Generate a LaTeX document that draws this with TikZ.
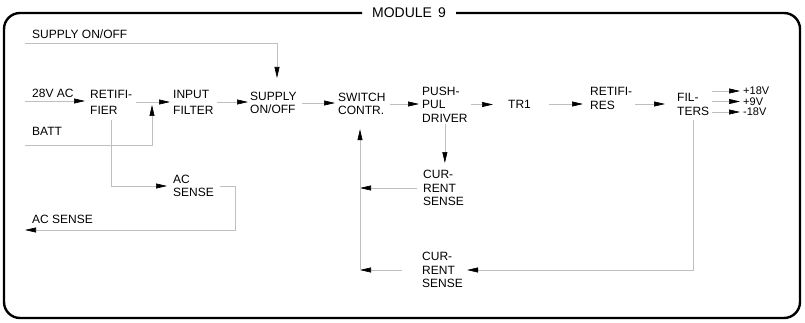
\documentclass[tikz,border=0pt]{standalone}
\usepackage{fontspec}
\setmainfont{Liberation Sans}
\usetikzlibrary{arrows.meta}
\begin{document}
\begin{tikzpicture}[x=1pt,y=-1pt,
  lbl/.style={inner sep=0pt, align=left, anchor=west, font=\fontsize{12}{14}\selectfont},
  lbl16/.style={lbl, font=\fontsize{12}{16}\selectfont},
  lbl13/.style={lbl, font=\fontsize{12}{13.5}\selectfont},
  outlbl/.style={lbl, font=\fontsize{11}{12}\selectfont},
  link/.style={draw=gray!50, line width=0.6pt},
  conn/.style={link, -{Triangle[length=11pt,width=5pt,color=black]}},
  frame/.style={draw=black, line width=2.4pt, rounded corners=16pt}]
\useasboundingbox (0,0) rectangle (805,323);
% frame
\draw[frame] (362,13) -- (4,13) -- (4,318) -- (800,318) -- (800,13) -- (456,13);
\node[inner sep=0pt, font=\fontsize{14}{16}\selectfont] (mod) at (409,13) {MODULE\hspace{6pt}9};
% labels
\node[lbl] (supT) at (32,34) {SUPPLY ON/OFF};
\node[lbl] (a28) at (32,93) {28V AC};
\node[lbl] (batt) at (32,131) {BATT};
\node[lbl16] (ret) at (90,102) {RETIFI-\\FIER};
\node[lbl16] (inf) at (173,102) {INPUT\\FILTER};
\node[lbl13] (sup) at (250,103) {SUPPLY\\ON/OFF};
\node[lbl13] (sw) at (338,104) {SWITCH\\CONTR.};
\node[lbl13] (pp) at (422,104.5) {PUSH-\\PUL\\DRIVER};
\node[lbl] (tr1) at (508,104) {TR1};
\node[lbl] (rr) at (590,98) {RETIFI-\\RES};
\node[lbl] (fil) at (677,104) {FIL-\\TERS};
\node[outlbl] (o1) at (743,91) {+18V};
\node[outlbl] (o2) at (743,101.5) {+9V};
\node[outlbl] (o3) at (743,112) {-18V};
\node[lbl13] (cs1) at (423,188) {CUR-\\RENT\\SENSE};
\node[lbl13] (cs2) at (422,270) {CUR-\\RENT\\SENSE};
\node[lbl13] (acs) at (173,186) {AC\\SENSE};
\node[lbl] (acsT) at (32,219) {AC SENSE};
% coordinates for free ends
\coordinate (s0) at (25,43);
\coordinate (s1) at (277,43);
\coordinate (s2) at (277,78);
\coordinate (a0) at (25,101);
\coordinate (b0) at (25,145);
\coordinate (b1) at (152,145);
\coordinate (b2) at (152,105);
\coordinate (vb) at (360,270);
\coordinate (q1) at (235,186);
\coordinate (q2) at (235,230);
\coordinate (q3) at (25,230);
% connectors
\draw[conn] (s0) -- (s1) -- (s2);
\draw[conn] (a0) -- ([xshift=-5pt]a0 -| ret.west);
\draw[conn] (b0) -- (b1) -- (b2);
\draw[conn] ([xshift=4pt]ret.east) -- ([xshift=-3pt]ret.east -| inf.west);
\draw[conn] ([xshift=3pt]inf.east) -- ([xshift=-2pt]inf.east -| sup.west);
\draw[conn] ([xshift=5pt]sup.east) -- ([xshift=-3pt]sup.east -| sw.west);
\draw[conn] ([xshift=4pt]sw.east) -- ([xshift=-3pt]sw.east -| pp.west);
\draw[conn] ([xshift=3pt]pp.east) -- ([xshift=-15pt]pp.east -| tr1.west);
\draw[conn] ([xshift=18pt]tr1.east) -- ([xshift=-7pt]tr1.east -| rr.west);
\draw[conn] ([xshift=3pt]rr.east |- tr1.east) -- ([xshift=-12pt]tr1.east -| fil.west);
\draw[conn] ([xshift=-31pt]o1.west) -- ([xshift=-3pt]o1.west);
\draw[conn] ([xshift=-31pt]o2.west) -- ([xshift=-3pt]o2.west);
\draw[conn] ([xshift=-31pt]o3.west) -- ([xshift=-3pt]o3.west);
\draw[conn] ([yshift=-6pt]ret.south) -- (ret.south |- acs.west) -- ([xshift=-6pt]acs.west);
\draw[conn] ([xshift=6pt]acs.east) -- (q1) -- (q2) -- (q3);
\draw[conn] ([yshift=-2pt]pp.south) -- ([yshift=7pt]pp.south |- cs1.north);
\draw[conn] ([xshift=-6pt]cs1.west) -- (cs1.west -| vb);
\draw[conn] ([yshift=-5pt]fil.south) -- (fil.south |- cs2.east) -- ([xshift=4pt]cs2.east);
\draw[conn] ([xshift=-20pt]cs2.west) -- (vb);
\draw[conn] (vb) -- ([yshift=-14pt]vb |- sw.south);
\end{tikzpicture}
\end{document}
